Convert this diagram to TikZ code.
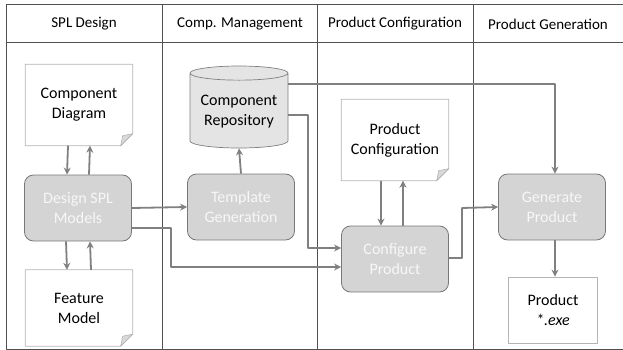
\documentclass[tikz,border=0pt]{standalone}
\usepackage{fontspec}
\setmainfont{Carlito}
\usetikzlibrary{shapes.geometric,arrows.meta}
\definecolor{frameline}{RGB}{80,80,80}
\definecolor{taskfill}{RGB}{212,212,212}
\definecolor{taskborder}{RGB}{120,120,120}
\definecolor{flowline}{RGB}{128,128,128}
\definecolor{docborder}{RGB}{180,180,180}
\definecolor{repofill}{RGB}{228,228,228}
\begin{document}
\begin{tikzpicture}[x=1pt, y=-1pt, line join=round,
    lane/.style={font=\fontsize{15}{17}\selectfont},
    task/.style={rectangle, rounded corners=9pt, draw=taskborder, fill=taskfill,
      line width=0.8pt, minimum width=107pt, minimum height=66pt, align=center,
      text=white!94!gray, font=\fontsize{16}{20}\selectfont},
    doc/.style={rectangle, minimum width=107pt, minimum height=81pt, align=center,
      font=\fontsize{16}{20}\selectfont},
    repo/.style={cylinder, shape border rotate=90, aspect=0.17, draw=gray, fill=repofill,
      line width=0.7pt, minimum width=98pt, minimum height=82pt, align=center,
      font=\fontsize{16}{20}\selectfont},
    flow/.style={draw=flowline, line width=1.8pt, -{Stealth[length=7pt, width=7pt]}}]
  \useasboundingbox (0,0) rectangle (623,350);
  % lanes
  \draw[frameline, line width=0.8pt] (623,4) -- (6,4) -- (6,349) -- (623,349);
  \draw[frameline, line width=0.8pt] (6,42) -- (623,42);
  \foreach \xx in {162,317,473}
    \draw[frameline, line width=0.8pt] (\xx,4) -- (\xx,349);
  \node[lane] (h1) at (84,24) {SPL Design};
  \node[lane] (h2) at (240,24) {Comp. Management};
  \node[lane] (h3) at (395,24) {Product Configuration};
  \node[lane] (h4) at (548,24) {Product Generation};
  % nodes
  \node[doc] (cd) at (79,105) {Component\\Diagram};
  \node[task] (dsm) at (78,208) {Design SPL\\Models};
  \node[doc, minimum height=76pt] (fm) at (79,308) {Feature\\Model};
  \node[repo] (cr) at (239,112) {Component\\Repository};
  \node[task] (tg) at (241,207) {Template\\Generation};
  \node[doc] (pc) at (395,140) {Product\\Configuration};
  \node[task] (cp) at (395,259) {Configure\\Product};
  \node[task] (gp) at (552,207) {Generate\\Product};
  \node[rectangle, draw=docborder, fill=white, line width=0.8pt, minimum width=89pt,
    minimum height=66pt, align=center, font=\fontsize{16}{20}\selectfont]
    (pr) at (553,310) {Product\\\textit{*.exe}};
  % document outlines with folded corner
  \foreach \d in {cd,fm,pc} {
    \draw[docborder, line width=0.8pt] (\d.north west) -- (\d.north east)
      -- ([yshift=12pt]\d.south east) -- ([xshift=-12pt]\d.south east)
      -- (\d.south west) -- cycle;
    \draw[docborder, fill=gray!30, line width=0.6pt] ([yshift=12pt]\d.south east)
      -- ([xshift=-12pt]\d.south east) -- ([xshift=-10pt,yshift=10pt]\d.south east) -- cycle;
  }
  % flows
  \draw[flow] ([xshift=-11pt]cd.south) -- ([xshift=-11pt]dsm.north);
  \draw[flow] ([xshift=11pt]dsm.north) -- ([xshift=11pt]cd.south);
  \draw[flow] ([xshift=-12pt]dsm.south) -- ([xshift=-12pt]fm.north);
  \draw[flow] ([xshift=12pt]fm.north) -- ([xshift=12pt]dsm.south);
  \draw[flow] (dsm.east) -- (tg.west);
  \draw[flow] (tg.north) -- (cr.south);
  \draw[flow] ([yshift=-20pt]dsm.east) -| (171,267) -- ([yshift=-8pt]cp.west);
  \draw[flow] ([yshift=-3pt]cr.east) -| (308,248) -- ([yshift=11pt]cp.west);
  \draw[flow] ([yshift=28pt]cr.east) -| ([xshift=3pt]gp.north);
  \draw[flow] ([xshift=-14pt]pc.south) -- ([xshift=-14pt]cp.north);
  \draw[flow] ([xshift=8pt]cp.north) -- ([xshift=8pt]pc.south);
  \draw[flow] ([yshift=1pt]cp.east) -| (462,208) -- (gp.west);
  \draw[flow] ([xshift=3pt]gp.south) -- ([xshift=2pt]pr.north);
\end{tikzpicture}
\end{document}
